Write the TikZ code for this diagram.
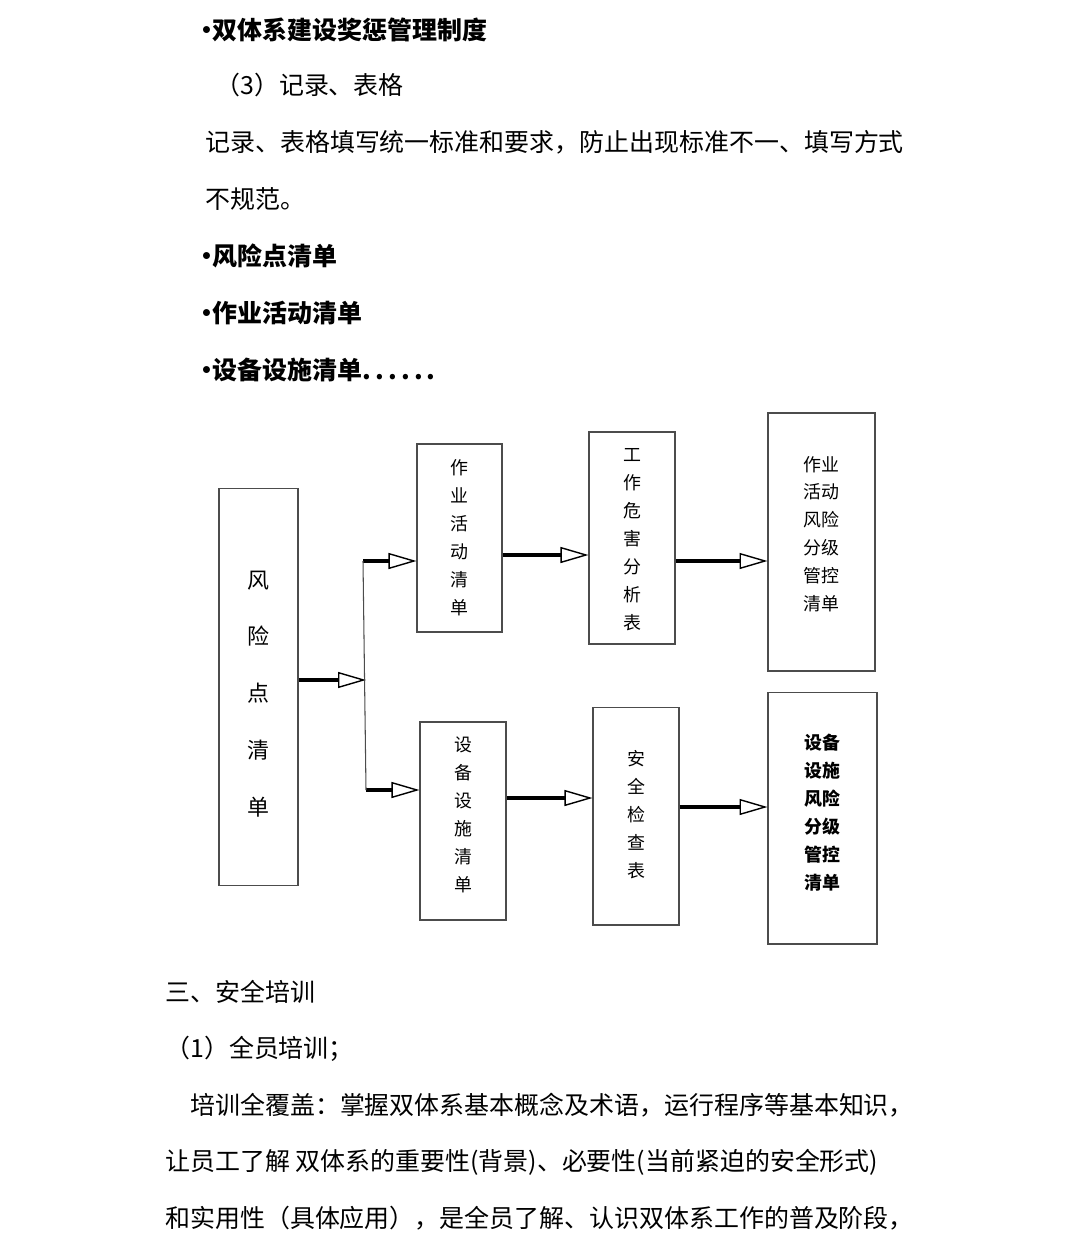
\documentclass[tikz,border=0pt]{standalone}
\usepackage{fontspec}
\setmainfont{Noto Sans CJK SC}
\usetikzlibrary{arrows.meta}
\newcommand{\bull}{\kern-0.5pt•\kern-3.8pt}
\begin{document}
\begin{tikzpicture}[x=0.02cm,y=-0.02cm,
    txt/.style={anchor=west,inner sep=0pt,font=\fontsize{14.2}{17}\selectfont},
    bul/.style={anchor=west,inner sep=0pt,font=\fontsize{14.2}{17}\selectfont\bfseries},
    box/.style={draw=black!70,line width=0.6pt,inner sep=0pt},
    lbl/.style={align=center,inner sep=0pt,font=\fontsize{10.2}{15.9}\selectfont},
    arr/.style={line width=2.1pt,
      -{Triangle[open,length=0.56cm,width=0.32cm,line width=0.8pt]}}]
  \useasboundingbox (0,0) rectangle (1080,1260);
  \draw
    (195,30) node[bul] (b1) {\bull 双体系建设奖惩管理制度}
    (215,85) node[txt] (h3) {（3）记录、表格}
    (205,142) node[txt] (p1) {记录、表格填写统一标准和要求，防止出现标准不一、填写方式}
    (205,199) node[txt] (p2) {不规范。}
    (195,256) node[bul] (b2) {\bull 风险点清单}
    (195,313) node[bul] (b3) {\bull 作业活动清单}
    (195,370) node[bul] (b4) {\bull 设备设施清单.\,.\,.\,.\,.\,.}
    (165,992) node[txt] (s3) {三、安全培训}
    (165,1049) node[txt] (h1) {（1）全员培训；}
    (190,1105) node[txt] (q1) {培训全覆盖：掌握双体系基本概念及术语，运行程序等基本知识，}
    (165,1162) node[txt] (q2) {让员工了解 双体系的重要性(背景)、必要性(当前紧迫的安全形式)}
    (165,1218) node[txt] (q3) {和实用性（具体应用），是全员了解、认识双体系工作的普及阶段，};
  \node[box,minimum width=1.58cm,minimum height=7.96cm,
    label={[lbl,font=\fontsize{12.5}{32.4}\selectfont,yshift=-4pt]center:风\\险\\点\\清\\单}]
    (fx) at (258.5,687) {};
  \node[box,minimum width=1.7cm,minimum height=3.76cm,
    label={[lbl]center:作\\业\\活\\动\\清\\单}] (zy) at (459.5,538) {};
  \node[box,minimum width=1.72cm,minimum height=3.96cm,
    label={[lbl,yshift=3.4pt]center:设\\备\\设\\施\\清\\单}] (sb) at (463,821) {};
  \node[box,minimum width=1.72cm,minimum height=4.24cm,
    label={[lbl,yshift=-0.8pt]center:工\\作\\危\\害\\分\\析\\表}] (gz) at (632,538) {};
  \node[box,minimum width=1.72cm,minimum height=4.36cm,
    label={[lbl,yshift=0.8pt]center:安\\全\\检\\查\\表}] (aq) at (636,816) {};
  \node[box,minimum width=2.14cm,minimum height=5.16cm,
    label={[lbl,yshift=4.5pt]center:作业\\活动\\风险\\分级\\管控\\清单}] (zf) at (821.5,542) {};
  \node[box,minimum width=2.18cm,minimum height=5.04cm,
    label={[lbl,font=\fontsize{10.2}{15.9}\selectfont\bfseries,yshift=3pt]center:设备\\设施\\风险\\分级\\管控\\清单}]
    (sf) at (822.5,818) {};
  \coordinate (j) at (366,680);
  \coordinate (jt) at (363,561);
  \coordinate (jb) at (366,790);
  \begin{scope}[arr]
    \draw (fx.east |- j) to (j);
    \draw (jt) to (zy.west |- jt);
    \draw (jb) to (sb.west |- jb);
    \draw (zy.east |- 0,555) to (gz.west |- 0,555);
    \draw (sb.east |- 0,798) to (aq.west |- 0,798);
    \draw (gz.east |- 0,561) to (zf.west |- 0,561);
    \draw (aq.east |- 0,807) to (sf.west |- 0,807);
  \end{scope}
  \draw[black!70,line width=0.6pt] (jt) to (jb);
\end{tikzpicture}
\end{document}
